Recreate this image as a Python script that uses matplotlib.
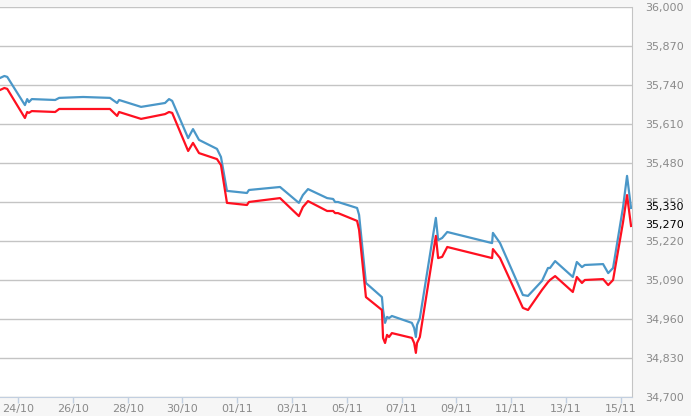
import numpy as np
import pandas as pd
import matplotlib
matplotlib.use("Agg")
import matplotlib.pyplot as plt
import matplotlib.dates as mdates
from matplotlib.ticker import FixedLocator, FuncFormatter

# timestamps shared by both series
times = pd.to_datetime([
    "2018-10-23 08:00", "2018-10-23 12:00", "2018-10-23 14:30", "2018-10-24 06:00",
    "2018-10-24 08:00", "2018-10-24 09:30", "2018-10-24 12:00", "2018-10-25 08:30",
    "2018-10-25 12:00", "2018-10-26 09:00", "2018-10-27 08:30", "2018-10-27 14:45",
    "2018-10-27 16:30", "2018-10-28 11:45", "2018-10-29 08:45", "2018-10-29 12:15",
    "2018-10-29 15:00", "2018-10-30 05:00", "2018-10-30 09:15", "2018-10-30 14:30",
    "2018-10-31 06:15", "2018-10-31 09:45", "2018-10-31 15:00", "2018-11-01 08:30",
    "2018-11-01 10:15", "2018-11-02 13:30", "2018-11-03 06:00", "2018-11-03 09:30",
    "2018-11-03 14:00", "2018-11-04 06:45", "2018-11-04 12:00", "2018-11-04 13:45",
    "2018-11-04 16:15", "2018-11-05 09:00", "2018-11-05 10:45", "2018-11-05 16:45",
    "2018-11-06 06:45", "2018-11-06 07:45", "2018-11-06 09:30", "2018-11-06 11:15",
    "2018-11-06 13:00", "2018-11-06 15:30", "2018-11-07 09:00", "2018-11-07 11:00",
    "2018-11-07 12:30", "2018-11-07 13:30", "2018-11-07 16:00", "2018-11-08 06:00",
    "2018-11-08 08:00", "2018-11-08 11:30", "2018-11-08 16:00", "2018-11-10 07:15",
    "2018-11-10 08:00", "2018-11-10 14:15", "2018-11-11 10:15", "2018-11-11 14:45",
    "2018-11-12 03:00", "2018-11-12 08:15", "2018-11-12 10:00", "2018-11-12 14:30",
    "2018-11-13 06:00", "2018-11-13 09:30", "2018-11-13 14:00", "2018-11-13 16:30",
    "2018-11-14 08:30", "2018-11-14 13:00", "2018-11-14 17:15", "2018-11-15 02:00",
    "2018-11-15 05:30", "2018-11-15 09:00",
])

blue = [
    35763, 35770, 35767, 35673, 35693, 35683, 35693, 35690, 35697, 35700,
    35697, 35680, 35690, 35667, 35680, 35693, 35687, 35563, 35593, 35557,
    35527, 35500, 35387, 35380, 35390, 35400, 35347, 35373, 35393, 35363,
    35360, 35350, 35350, 35330, 35307, 35080, 35033, 34990, 34947, 34967,
    34963, 34970, 34947, 34930, 34900, 34940, 34963, 35297, 35223, 35230,
    35250, 35213, 35247, 35213, 35040, 35037, 35087, 35130, 35130, 35153,
    35100, 35150, 35133, 35140, 35143, 35113, 35130, 35333, 35437, 35330,
]

red = [
    35723, 35730, 35727, 35630, 35650, 35647, 35653, 35650, 35660, 35660,
    35660, 35637, 35650, 35627, 35643, 35650, 35647, 35520, 35547, 35513,
    35493, 35473, 35347, 35340, 35350, 35363, 35303, 35333, 35353, 35320,
    35320, 35313, 35313, 35287, 35257, 35033, 34990, 34897, 34880, 34907,
    34900, 34913, 34897, 34880, 34847, 34880, 34900, 35237, 35163, 35167,
    35200, 35163, 35193, 35163, 34997, 34990, 35057, 35083, 35090, 35103,
    35050, 35100, 35080, 35090, 35093, 35073, 35090, 35283, 35373, 35270,
]

y_ticks = [34700, 34830, 34960, 35090, 35220, 35350, 35480, 35610, 35740, 35870, 36000]
last_labels = [(35333, "35,330"), (35273, "35,270")]

fig = plt.figure(figsize=(6.91, 4.16), dpi=100)
fig.patch.set_facecolor("#f6f6f6")
ax = fig.add_axes([0.0, 0.0457, 0.9146, 0.9375])
ax.set_facecolor("white")

ax.plot(times, blue, color="#4a97c8", lw=1.6, zorder=3)
ax.plot(times, red, color="#ff1020", lw=1.6, zorder=3)

ax.set_ylim(34700, 36000)
ax.set_xlim(pd.Timestamp("2018-10-23 08:10"), pd.Timestamp("2018-11-15 09:50"))

ax.yaxis.set_major_locator(FixedLocator(y_ticks))
ax.yaxis.set_major_formatter(FuncFormatter(lambda v, p: f"{int(v):,}"))
ax.yaxis.tick_right()
ax.tick_params(axis="y", length=0, pad=9.5, labelsize=8, labelcolor="#8a8a8a")
ax.grid(axis="y", color="#c4c4c4", lw=1)

ax.xaxis.set_major_locator(mdates.DayLocator(bymonthday=[24, 26, 28, 30, 1, 3, 5, 7, 9, 11, 13, 15]))
ax.xaxis.set_major_formatter(mdates.DateFormatter("%d/%m"))
ax.tick_params(axis="x", length=4, width=1, color="#c2cfe0", pad=1, labelsize=8, labelcolor="#8a8a8a")

for s in ["left", "top"]:
    ax.spines[s].set_visible(False)
ax.spines["right"].set_color("#c4c4c4")
ax.spines["bottom"].set_color("#c2cfe0")

for val, txt in last_labels:
    ax.annotate(txt, xy=(1, val), xycoords=("axes fraction", "data"),
                xytext=(9.5, 0), textcoords="offset points", va="center", ha="left",
                fontsize=8, color="black",
                bbox=dict(boxstyle="square,pad=0.05", fc="#f6f6f6", ec="none"))

fig.savefig("out.png", dpi=100, facecolor=fig.get_facecolor())
